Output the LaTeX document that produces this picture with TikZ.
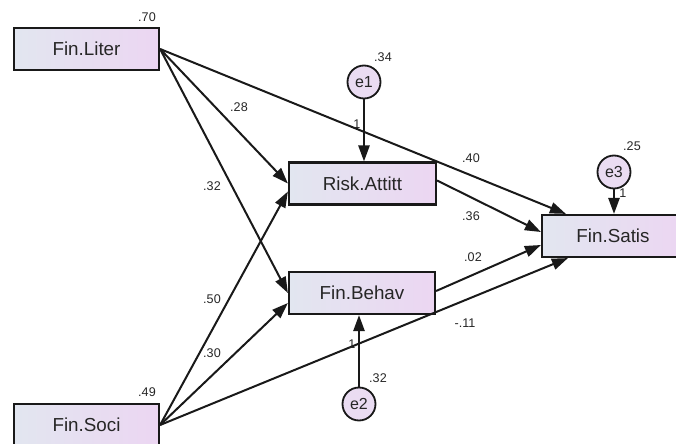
\documentclass[tikz,border=0pt]{standalone}
\usepackage{fontspec}
\setmainfont{Liberation Sans}
\usetikzlibrary{calc,arrows.meta}
\definecolor{boxleft}{RGB}{226,230,240}
\definecolor{boxright}{RGB}{236,214,242}
\definecolor{errfill}{RGB}{234,220,242}
\tikzset{
	var/.style={draw=black!90, line width=1.1pt, minimum width=72.5pt, minimum height=21pt, inner sep=0pt,
		left color=boxleft, right color=boxright, text=black!85, font=\fontsize{9.4}{11}\selectfont},
	err/.style={circle, draw=black!90, line width=0.9pt, minimum size=16.5pt, inner sep=0pt,
		fill=errfill, text=black!85, font=\fontsize{8}{9}\selectfont},
	reg/.style={line width=1pt, black!90, -{Triangle[length=8pt,width=5.6pt]}},
	est/.style={inner sep=0pt, text=black!85, font=\fontsize{6.3}{7}\selectfont}
}

\begin{document}
\begin{tikzpicture}[x=0.5pt, y=-0.5pt]
		%%%%% START %%%%%
		\useasboundingbox (0,0) rectangle (676,444);
		\clip (0,0) rectangle (676,444);
		
		% observed variables
		\node[var] (liter) at (86.5,49) {Fin.Liter};
		\node[var] (soci) at (86.5,425) {Fin.Soci};
		\node[var, minimum width=73.5pt] (risk) at (362.5,183.5) {Risk.Attitt};
		\node[var, minimum width=73pt] (behav) at (362,293) {Fin.Behav};
		\node[var, minimum width=71pt] (satis) at (613,236) {Fin.Satis};
		
		% residuals
		\node[err] (e1) at (364,82) {e1};
		\node[err] (e2) at (359,404) {e2};
		\node[err] (e3) at (614,172) {e3};
		
		% paths
		\draw[reg] (liter.east) -- (risk.west);
		\draw[reg] (liter.east) -- (behav.west);
		\draw[reg] (liter.east) -- ($(satis.north west)+(25,0)$);
		\draw[reg] (soci.east) -- ($(risk.west)+(0,8)$);
		\draw[reg] (soci.east) -- ($(behav.west)+(0,10)$);
		\draw[reg] (soci.east) -- ($(satis.south west)+(27,0)$);
		\draw[reg] ($(risk.east)+(0,-3)$) -- ($(satis.west)+(0,-4)$);
		\draw[reg] ($(behav.east)+(0,-2)$) -- ($(satis.west)+(0,9)$);
		\draw[reg] (e1) -- (risk.north -| e1);
		\draw[reg] (e2) -- (behav.south -| e2);
		\draw[reg] (e3) -- (satis.north -| e3);
		
		% variances
		\node[est] (vliter) at (147,17) {.70};
		\node[est] (vsoci) at (147,392) {.49};
		\node[est] (ve1) at (383,57) {.34};
		\node[est] (ve2) at (378,378) {.32};
		\node[est] (ve3) at (632,146) {.25};
		
		% weights
		\node[est] (wlr) at (239,107) {.28};
		\node[est] (wlb) at (212,186) {.32};
		\node[est] (wls) at (471,158) {.40};
		\node[est] (wsr) at (212,299) {.50};
		\node[est] (wsb) at (212,353) {.30};
		\node[est] (wss) at (465,323) {-.11};
		\node[est] (wrs) at (471,216) {.36};
		\node[est] (wbs) at (473,257) {.02};
		\node[est] (we1) at (357,124) {1};
		\node[est] (we2) at (352,344) {1};
		\node[est] (we3) at (623,193) {1};
		
		%%%%% END %%%%%
	\end{tikzpicture}
\end{document}
